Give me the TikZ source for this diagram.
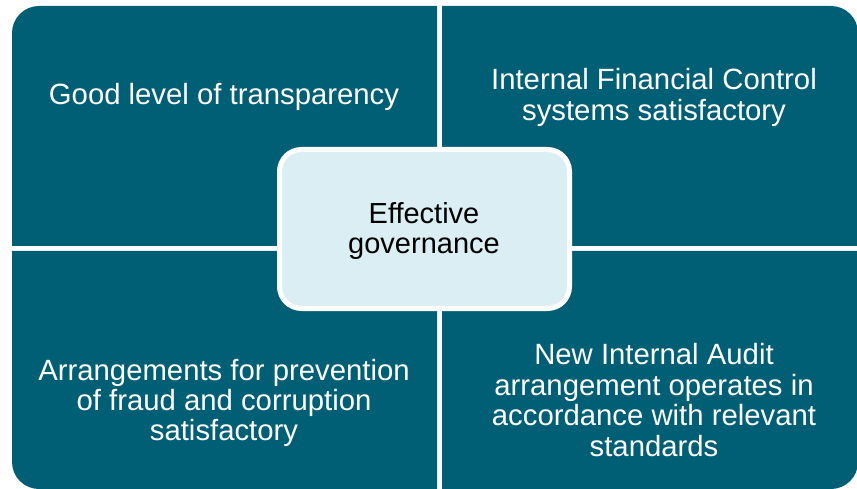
\documentclass[tikz,border=0pt]{standalone}
\usepackage{fontspec}
\setmainfont{Liberation Sans}
\definecolor{teal}{HTML}{005F75}
\definecolor{paleblue}{HTML}{DBEEF3}
\begin{document}
\begin{tikzpicture}[x=1pt,y=-1pt,
  quad/.style={fill=teal},
  qtext/.style={text=white,align=center,font=\fontsize{29.3}{30.4}\selectfont,inner sep=0pt},
  centerbox/.style={draw=white,line width=5pt,fill=paleblue,rounded corners=22pt},
  ctext/.style={text=black,align=center,font=\fontsize{29}{30.5}\selectfont,inner sep=0pt}]
\useasboundingbox (0,0) rectangle (857,489);
% quadrants
\fill[quad] (12,246) [rounded corners=27pt] -- (12,6) [sharp corners] -- (437,6) -- (437,246) -- cycle;
\fill[quad] (442,246) -- (442,6) [rounded corners=27pt] -- (858,6) [sharp corners] -- (858,246) -- cycle;
\fill[quad] (437,251) -- (12,251) [rounded corners=27pt] -- (12,489) [sharp corners] -- (437,489) -- cycle;
\fill[quad] (442,251) -- (858,251) [rounded corners=27pt] -- (858,489) [sharp corners] -- (442,489) -- cycle;
% centre box
\path[centerbox] (279.5,149.5) rectangle (569.5,308.5);
% texts
\node[qtext] (tl) at (224,97) {Good level of transparency};
\node[qtext] (tr) at (654,97.5) {Internal Financial Control\\systems satisfactory};
\node[qtext] (bl) at (224,403) {Arrangements for prevention\\of fraud and corruption\\satisfactory};
\node[qtext] (br) at (654,400) {New Internal Audit\\arrangement operates in\\accordance with relevant\\standards};
\node[ctext] (c) at (424,231) {Effective\\governance};
\end{tikzpicture}
\end{document}
